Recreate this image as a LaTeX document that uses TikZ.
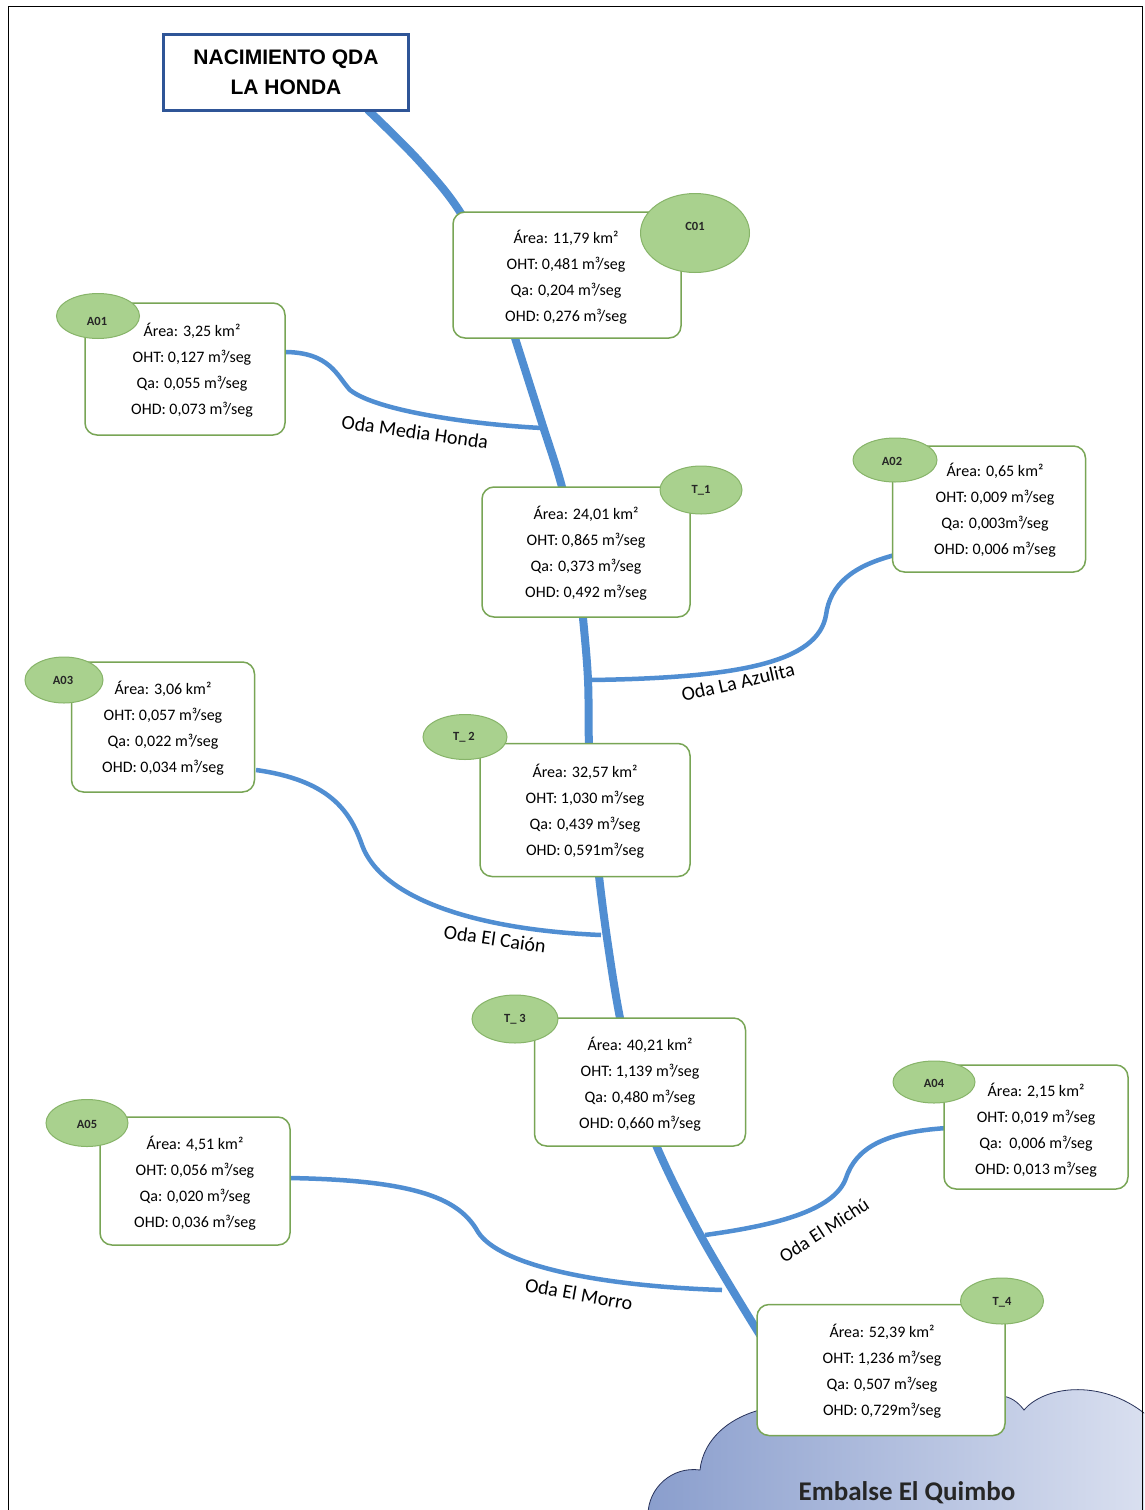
\documentclass[tikz,border=0pt]{standalone}
\usepackage{fontspec}
\usetikzlibrary{shapes.geometric}
\newfontfamily\calfont{Carlito}
\newfontfamily\arialfont{Liberation Sans}
\definecolor{riverblue}{RGB}{80,142,210}
\definecolor{boxgreen}{RGB}{120,165,85}
\definecolor{tagfill}{RGB}{169,209,142}
\definecolor{tagdraw}{RGB}{135,180,105}
\definecolor{titleblue}{RGB}{47,85,151}
\definecolor{cloudL}{RGB}{138,158,205}
\definecolor{cloudR}{RGB}{218,224,240}
\definecolor{cloudline}{RGB}{40,50,90}
\tikzset{
  river/.style={line width=8pt, draw=riverblue, line cap=round},
  trib/.style={line width=4.5pt, draw=riverblue},
  databox/.style={draw=boxgreen, line width=1.5pt, fill=white, rounded corners=12pt, inner sep=0pt},
  datatext/.style={font=\calfont\fontsize{16}{26}\selectfont, align=center, inner sep=0pt},
  tag/.style={ellipse, draw=tagdraw, line width=1pt, fill=tagfill, inner sep=0pt},
  taglabel/.style={font=\calfont\bfseries\fontsize{12.5}{14}\selectfont, text=black!85, inner sep=0pt},
  rivlabel/.style={font=\calfont\fontsize{20}{22}\selectfont, inner sep=0pt}
}
\begin{document}
\begin{tikzpicture}[x=1pt,y=-1pt]
\useasboundingbox (0,0) rectangle (1144,1510);
\fill[white] (0,0) rectangle (1144,1510);
% cloud
\begin{scope}
\clip (0,0) rectangle (1144,1510);
\shade[left color=cloudL, right color=cloudR, draw=cloudline, line width=0.8pt]
  (648,1515) .. controls (648,1488) and (672,1466) .. (700,1470)
  .. controls (703,1440) and (730,1412) .. (780,1406)
  -- (1000,1396)
  .. controls (1010,1396) and (1018,1402) .. (1024,1410)
  .. controls (1045,1385) and (1105,1378) .. (1150,1418)
  -- (1150,1515) -- cycle;
\end{scope}
% page frame
\draw[black, line width=1pt] (8,1512) -- (8,6) -- (1142,6) -- (1142,1512);
% main river waypoints
\coordinate (r0) at (368,110);
\coordinate (r1) at (420,162);
\coordinate (r2) at (462,215);
\coordinate (r3) at (500,290);
\coordinate (r4) at (515,338);
\coordinate (r5) at (541,420);
\coordinate (r6) at (562,487);
\coordinate (r7) at (576,552);
\coordinate (r8) at (583,618);
\coordinate (r9) at (588,680);
\coordinate (r10) at (589,745);
\coordinate (r11) at (593,810);
\coordinate (r12) at (599,876);
\coordinate (r13) at (608,945);
\coordinate (r14) at (620,1018);
\coordinate (r15) at (635,1080);
\coordinate (r16) at (656,1145);
\coordinate (r17) at (702,1238);
\coordinate (r18) at (760,1335);
\draw[river] plot[smooth, tension=0.6] coordinates {(r0) (r1) (r2) (r3) (r4) (r5) (r6) (r7) (r8) (r9) (r10) (r11) (r12) (r13) (r14) (r15) (r16) (r17) (r18)};
% tributaries
\coordinate (j1) at (542,428);
\coordinate (j2) at (590,680);
\coordinate (j3) at (601,935);
\coordinate (j4) at (705,1235);
\coordinate (j5) at (722,1290);
\coordinate (s1) at (284,352);
\coordinate (s2) at (895,555);
\coordinate (s3) at (256,770);
\coordinate (s4) at (947,1128);
\coordinate (s5) at (288,1178);
\draw[trib] (s1) .. controls (330,352) and (337,376) .. (350,390) .. controls (378,412) and (480,425) .. (j1);
\draw[trib] (s2) .. controls (852,566) and (830,585) .. (826,615) .. controls (818,662) and (740,678) .. (j2);
\draw[trib] (s3) .. controls (328,780) and (350,810) .. (362,845) .. controls (382,900) and (480,930) .. (j3);
\draw[trib] (s4) .. controls (884,1132) and (856,1148) .. (846,1178) .. controls (834,1212) and (770,1226) .. (j4);
\draw[trib] (s5) .. controls (420,1180) and (460,1200) .. (478,1232) .. controls (500,1266) and (600,1286) .. (j5);
% title
\node[draw=titleblue, line width=3pt, fill=white, minimum width=245pt, minimum height=76pt, inner sep=0pt,
      font=\arialfont\bfseries\fontsize{21}{30}\selectfont, align=center] (title) at (286,72) {NACIMIENTO QDA\\LA HONDA};
% boxes
\node[databox, minimum width=228pt, minimum height=126pt] (c01) at (567,275) {};
\node[databox, minimum width=200pt, minimum height=132pt] (a01) at (185,369) {};
\node[databox, minimum width=208pt, minimum height=130pt] (t1) at (586,552) {};
\node[databox, minimum width=193pt, minimum height=126pt] (a02) at (989,509) {};
\node[databox, minimum width=183pt, minimum height=130pt] (a03) at (163,727) {};
\node[databox, minimum width=210pt, minimum height=133pt] (t2) at (585,810) {};
\node[databox, minimum width=211pt, minimum height=128pt] (t3) at (640,1082) {};
\node[databox, minimum width=184pt, minimum height=124pt] (a04) at (1036,1127) {};
\node[databox, minimum width=190pt, minimum height=128pt] (a05) at (195,1181) {};
\node[databox, minimum width=248pt, minimum height=131pt] (t4) at (881,1370) {};
% box texts
\node[datatext] (c01t) at (566,277) {Área: 11,79 km²\\OHT: 0,481 m³/seg\\Qa: 0,204 m³/seg\\OHD: 0,276 m³/seg};
\node[datatext] (a01t) at (192,370) {Área: 3,25 km²\\OHT: 0,127 m³/seg\\Qa: 0,055 m³/seg\\OHD: 0,073 m³/seg};
\node[datatext] (t1t) at (586,553) {Área: 24,01 km²\\OHT: 0,865 m³/seg\\Qa: 0,373 m³/seg\\OHD: 0,492 m³/seg};
\node[datatext] (a02t) at (995,510) {Área: 0,65 km²\\OHT: 0,009 m³/seg\\Qa: 0,003m³/seg\\OHD: 0,006 m³/seg};
\node[datatext] (a03t) at (163,728) {Área: 3,06 km²\\OHT: 0,057 m³/seg\\Qa: 0,022 m³/seg\\OHD: 0,034 m³/seg};
\node[datatext] (t2t) at (585,811) {Área: 32,57 km²\\OHT: 1,030 m³/seg\\Qa: 0,439 m³/seg\\OHD: 0,591m³/seg};
\node[datatext] (t3t) at (640,1084) {Área: 40,21 km²\\OHT: 1,139 m³/seg\\Qa: 0,480 m³/seg\\OHD: 0,660 m³/seg};
\node[datatext] (a04t) at (1036,1130) {Área: 2,15 km²\\OHT: 0,019 m³/seg\\Qa:\ \ 0,006 m³/seg\\OHD: 0,013 m³/seg};
\node[datatext] (a05t) at (195,1183) {Área: 4,51 km²\\OHT: 0,056 m³/seg\\Qa: 0,020 m³/seg\\OHD: 0,036 m³/seg};
\node[datatext] (t4t) at (882,1371) {Área: 52,39 km²\\OHT: 1,236 m³/seg\\Qa: 0,507 m³/seg\\OHD: 0,729m³/seg};
% tags
\node[tag, minimum width=109pt, minimum height=79pt] (c01e) at (695,233) {};
\node[taglabel] at (695,226) {C01};
\node[tag, minimum width=83pt, minimum height=45pt] (a01e) at (98,316) {};
\node[taglabel] at (97,321) {A01};
\node[tag, minimum width=82pt, minimum height=48pt] (t1e) at (701,490) {};
\node[taglabel] at (701,490) {T\_1};
\node[tag, minimum width=84pt, minimum height=44pt] (a02e) at (895,460) {};
\node[taglabel] at (892,461) {A02};
\node[tag, minimum width=78pt, minimum height=46pt] (a03e) at (64,680) {};
\node[taglabel] at (63,680) {A03};
\node[tag, minimum width=84pt, minimum height=45pt] (t2e) at (465,737) {};
\node[taglabel] at (464,737) {T\_ 2};
\node[tag, minimum width=86pt, minimum height=48pt] (t3e) at (515,1019) {};
\node[taglabel] at (515,1019) {T\_ 3};
\node[tag, minimum width=82pt, minimum height=42pt] (a04e) at (934,1082) {};
\node[taglabel] at (934,1083) {A04};
\node[tag, minimum width=82pt, minimum height=47pt] (a05e) at (87,1123) {};
\node[taglabel] at (87,1124) {A05};
\node[tag, minimum width=83pt, minimum height=46pt] (t4e) at (1002,1301) {};
\node[taglabel] at (1002,1302) {T\_4};
% river labels
\node[rivlabel, rotate=-8] (l1) at (415,432) {Oda Media Honda};
\node[rivlabel, rotate=13] (l2) at (738,682) {Oda La Azulita};
\node[rivlabel, rotate=-8] (l3) at (495,939) {Oda El Caión};
\node[rivlabel, rotate=33, font=\calfont\fontsize{19}{21}\selectfont] (l4) at (824,1230) {Oda El Michú};
\node[rivlabel, rotate=-10] (l5) at (579,1294) {Oda El Morro};
% reservoir label
\node[font=\calfont\bfseries\fontsize{27}{30}\selectfont, text=black!85, inner sep=0pt] (emb) at (907,1493) {Embalse El Quimbo};
\end{tikzpicture}
\end{document}
